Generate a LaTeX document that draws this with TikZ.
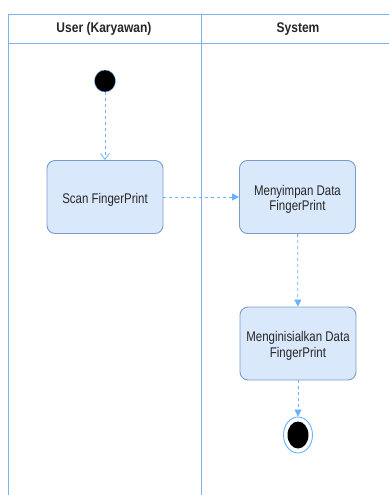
\documentclass[tikz,border=0pt]{standalone}
\usepackage{fontspec}
\setmainfont{Liberation Sans}
\newfontfamily\condfont[FakeStretch=0.82]{Liberation Sans}
\newfontfamily\hdrfont[FakeStretch=0.86]{Liberation Sans}
\usetikzlibrary{arrows.meta,shapes.geometric}
\definecolor{lane}{HTML}{7EB3F2}
\definecolor{flow}{HTML}{66B2FF}
\definecolor{boxfill}{HTML}{DAE8FC}
\definecolor{boxline}{HTML}{7A9CCB}
\tikzset{
  lanestyle/.style={draw=lane, line width=0.9pt},
  actbox/.style={draw=boxline, fill=boxfill, rounded corners=8pt, line width=0.9pt,
    minimum width=116pt, minimum height=73pt, inner sep=0pt},
  acttext/.style={align=center, inner sep=0pt, yshift=-2.5pt,
    font=\condfont\fontsize{14}{15.7}\selectfont, text=black!85},
  flowarrow/.style={draw=flow, dashed, dash pattern=on 3pt off 3pt, line width=0.8pt},
  hdr/.style={font=\hdrfont\fontsize{14}{16}\selectfont\bfseries, text=black!85}
}
\begin{document}
\begin{tikzpicture}[x=1pt,y=-1pt]
\useasboundingbox (0,0) rectangle (389,495);
% swimlanes
\draw[lanestyle] (389,14) -- (8,14) -- (8,495);
\draw[lanestyle] (8,43) -- (389,43);
\draw[lanestyle] (201,14) -- (201,495);
\node[hdr] (h1) at (104,29) {User (Karyawan)};
\node[hdr] (h2) at (298,29) {System};
% nodes
\node[ellipse, fill=black, draw=flow, line width=0.4pt, minimum width=21pt, minimum height=22pt, inner sep=0pt] (start) at (105,81) {};
\node[actbox, label={[acttext]center:{Scan FingerPrint}}] (scan) at (105,197) {};
\node[actbox, label={[acttext]center:{Menyimpan Data\\FingerPrint}}] (simpan) at (297.5,197) {};
\node[actbox, label={[acttext]center:{Menginisialkan Data\\FingerPrint}}] (inisial) at (298,343.5) {};
\node[ellipse, draw=flow, fill=white, line width=0.9pt, minimum width=29pt, minimum height=36pt, inner sep=0pt] (end) at (298,435) {};
\node[ellipse, fill=black, minimum width=21pt, minimum height=27pt, inner sep=0pt] (endin) at (end.center) {};
% connectors
\draw[flowarrow, -{Straight Barb[length=6pt,width=9pt]}] (start) -- (scan);
\draw[flowarrow, -{Triangle[length=7pt,width=7pt]}] (scan) -- (simpan);
\draw[flowarrow, -{Triangle[length=7pt,width=7pt]}] (simpan) -- (inisial);
\draw[flowarrow, -{Triangle[length=7pt,width=7pt]}] (inisial) -- (end);
\end{tikzpicture}
\end{document}
